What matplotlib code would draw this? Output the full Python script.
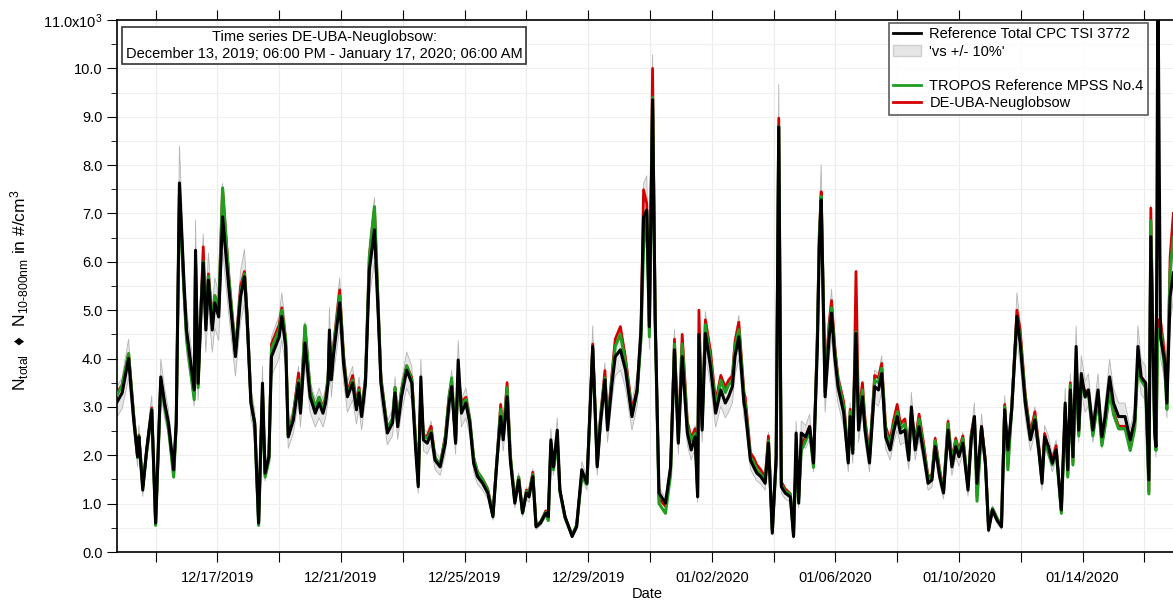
import numpy as np
import pandas as pd
import matplotlib
matplotlib.use("Agg")
import matplotlib.pyplot as plt
from matplotlib.lines import Line2D
from matplotlib.patches import Patch
from matplotlib.ticker import MultipleLocator, FuncFormatter

plt.rcParams['font.family'] = ['Liberation Sans', 'DejaVu Sans']
plt.rcParams['mathtext.fontset'] = 'custom'
plt.rcParams['mathtext.rm'] = 'Liberation Sans'
plt.rcParams['mathtext.it'] = 'Liberation Sans:italic'
plt.rcParams['mathtext.default'] = 'regular'
plt.rcParams['mathtext.fallback'] = 'stixsans'

# Messzeitraum
t_start = pd.Timestamp('2019-12-13 18:00')
t_end = pd.Timestamp('2020-01-17 06:00')

# Stunden seit Beginn
hours = [0, 4, 9, 13, 16, 17, 20, 23, 27, 30, 32, 34, 37, 40, 44, 46, 48.5, 52, 54, 60,
         61, 63, 65.5, 67, 69, 71, 74, 76, 79, 82, 87, 92, 96, 99, 101, 104, 107, 110, 113, 115,
         118, 120, 126, 128, 131, 133, 137, 141, 142.5, 146, 150, 154, 157, 160, 162, 164, 165, 166.5, 168, 173,
         176, 179, 183, 186, 188, 190, 193, 196, 200, 203, 205, 210, 214, 216, 218, 221, 225, 229, 232, 234,
         236, 238, 241, 244, 247, 251, 255, 258, 260, 263, 265, 267.5, 271, 274, 277, 280, 284, 288, 292, 295,
         298, 300, 303, 305.5, 309, 312, 315, 318, 320, 323, 325.5, 329, 333, 335, 337, 339, 342, 344, 348, 353.5,
         357, 361, 365, 369.5, 373, 375.5, 379, 381, 384.5, 387, 391, 395, 400, 404, 407, 409, 411.5, 413.5, 416, 418,
         421, 426, 430, 433, 436, 439, 443, 446, 449, 451, 452, 454.5, 457, 461, 465, 469, 472.5, 475, 478, 480,
         483, 487, 488, 492, 494.5, 497, 500, 503.5, 506, 509, 512, 514, 516, 519, 523, 525.5, 527.5, 529.5, 531.5, 535,
         538, 541, 544, 545.5, 547, 550, 553, 555, 557.5, 560, 564.5, 568, 569.5, 571.5, 572.5, 574, 576, 579, 581, 584.5,
         588.5, 591.5, 594, 597, 600.5, 603, 606, 608.5, 612, 615, 617, 620, 623, 626.5, 630, 633, 635.5, 639, 642, 645.5,
         648.5, 651.5, 654, 657, 661, 663.5, 666, 668, 671.5, 674.5, 677, 680, 683.5, 687, 689.5, 692, 695, 699, 701.5, 705.5,
         709.5, 713, 716, 718.5, 720.5, 723.5, 726.5, 729.5, 733.5, 736.5, 738.5, 740.5, 742.5, 745, 747, 749, 752, 754.5, 758, 762,
         765, 767.5, 771, 774, 778, 783, 787, 790.5, 793, 795.5, 799, 801.5, 803, 806, 807, 808.5, 810.5, 814, 815.5, 818,
         820.5]

# Referenz CPC TSI 3772 (x10^3 #/cm3)
cpc_ref = [3.10, 3.29, 4.00, 2.73, 1.97, 2.38, 1.28, 2.11, 2.94, 0.60, 2.11, 3.62, 3.08, 2.67, 1.70, 2.67, 7.63, 5.56, 4.59, 3.35,
           6.24, 3.49, 5.15, 5.98, 4.59, 5.62, 4.59, 5.15, 4.86, 6.93, 5.42, 4.04, 5.28, 5.69, 4.87, 3.08, 2.67, 0.60, 3.49, 1.63,
           1.97, 4.04, 4.45, 4.87, 4.25, 2.38, 2.73, 3.49, 2.87, 4.32, 3.21, 2.87, 3.08, 2.87, 3.08, 3.49, 4.59, 3.56, 4.04, 5.15,
           3.90, 3.21, 3.49, 2.94, 3.29, 2.80, 3.49, 5.83, 6.66, 4.87, 3.49, 2.46, 2.67, 3.29, 2.59, 3.21, 3.76, 3.49, 2.11, 1.35,
           3.62, 2.32, 2.25, 2.46, 1.90, 1.76, 2.25, 3.08, 3.42, 2.25, 3.97, 2.87, 3.08, 2.67, 1.84, 1.56, 1.42, 1.22, 0.73, 1.84,
           2.80, 2.32, 3.21, 1.90, 1.01, 1.49, 0.81, 1.22, 1.14, 1.56, 0.52, 0.60, 0.80, 0.73, 2.32, 1.76, 2.52, 1.28, 0.73, 0.32,
           0.52, 1.70, 1.42, 4.25, 1.76, 2.66, 3.56, 2.52, 3.49, 4.04, 4.18, 3.76, 2.80, 3.35, 4.59, 6.93, 7.07, 4.66, 9.35, 4.87,
           1.22, 1.01, 1.76, 4.18, 2.25, 4.04, 2.46, 2.11, 2.38, 1.14, 4.50, 2.52, 4.52, 3.83, 2.87, 3.35, 3.08, 3.21, 3.42, 4.04,
           4.45, 3.08, 2.94, 1.90, 1.76, 1.63, 1.56, 1.42, 2.25, 0.39, 1.97, 8.79, 1.35, 1.22, 1.14, 0.32, 2.46, 1.01, 2.46, 2.38,
           2.59, 1.84, 4.25, 6.31, 7.28, 3.21, 4.38, 4.94, 4.04, 3.42, 2.87, 1.84, 2.80, 2.04, 3.21, 4.52, 2.52, 3.21, 2.52, 1.84,
           3.42, 3.35, 3.69, 2.38, 2.11, 2.46, 2.80, 2.46, 2.52, 1.90, 3.00, 2.11, 2.59, 2.04, 1.42, 1.49, 2.18, 1.56, 1.22, 2.52,
           1.76, 2.18, 1.97, 2.25, 1.28, 2.32, 2.80, 1.42, 2.59, 1.84, 0.45, 0.87, 0.66, 0.52, 2.94, 2.11, 2.94, 4.87, 4.32, 3.08,
           2.32, 2.73, 2.11, 1.42, 2.38, 2.18, 1.84, 2.11, 0.87, 3.08, 1.70, 3.35, 1.97, 4.25, 2.52, 3.69, 3.21, 3.35, 2.52, 3.35,
           2.38, 2.80, 3.62, 3.08, 2.80, 2.80, 2.32, 2.73, 4.25, 3.62, 3.49, 1.49, 6.52, 2.52, 2.18, 12.0, 4.45, 3.90, 3.08, 5.28,
           5.77]

# TROPOS Referenz-MPSS Nr. 4
mpss = [3.25, 3.45, 4.10, 2.80, 1.95, 2.40, 1.35, 2.05, 2.95, 0.55, 2.05, 3.50, 3.00, 2.55, 1.55, 2.60, 7.40, 5.40, 4.40, 3.15,
        6.00, 3.40, 5.20, 6.00, 4.70, 5.70, 4.70, 5.30, 5.00, 7.53, 5.60, 4.10, 5.35, 5.75, 4.90, 3.15, 2.60, 0.55, 3.30, 1.55,
        1.90, 4.20, 4.60, 5.00, 4.40, 2.40, 2.85, 3.55, 2.95, 4.69, 3.35, 3.00, 3.20, 2.95, 3.15, 3.60, 4.40, 3.60, 4.15, 5.30,
        4.00, 3.25, 3.55, 3.00, 3.35, 2.85, 3.55, 6.10, 7.14, 5.00, 3.55, 2.55, 2.75, 3.40, 2.65, 3.35, 3.85, 3.55, 2.25, 1.40,
        3.30, 2.40, 2.35, 2.50, 1.95, 1.80, 2.35, 3.20, 3.60, 2.25, 3.60, 3.05, 3.15, 2.75, 1.95, 1.65, 1.50, 1.28, 0.75, 1.85,
        2.95, 2.45, 3.40, 2.00, 1.05, 1.55, 0.80, 1.25, 1.20, 1.60, 0.55, 0.62, 0.82, 0.65, 2.20, 1.70, 2.30, 1.25, 0.70, 0.35,
        0.55, 1.55, 1.40, 4.20, 1.80, 2.75, 3.60, 2.60, 3.60, 4.25, 4.50, 3.90, 2.85, 3.30, 4.40, 6.30, 7.00, 4.45, 9.40, 4.80,
        1.00, 0.80, 1.60, 4.30, 2.30, 4.30, 2.60, 2.30, 2.45, 1.20, 4.40, 2.60, 4.70, 4.00, 3.00, 3.55, 3.30, 3.45, 3.55, 4.25,
        4.60, 3.20, 3.05, 1.95, 1.85, 1.70, 1.60, 1.50, 2.30, 0.45, 1.85, 8.80, 1.40, 1.25, 1.20, 0.35, 1.90, 1.10, 2.10, 2.30,
        2.50, 1.75, 4.40, 6.50, 7.35, 3.30, 4.55, 5.05, 4.15, 3.55, 3.00, 1.90, 2.90, 2.10, 3.30, 4.55, 2.65, 3.35, 2.65, 1.95,
        3.55, 3.50, 3.80, 2.50, 2.20, 2.60, 2.90, 2.55, 2.65, 2.00, 2.80, 2.20, 2.75, 2.15, 1.50, 1.55, 2.30, 1.65, 1.25, 2.65,
        1.85, 2.30, 2.05, 2.35, 1.35, 2.40, 2.75, 1.05, 2.55, 1.85, 0.50, 0.90, 0.70, 0.55, 3.00, 1.70, 3.00, 4.85, 4.45, 3.15,
        2.35, 2.80, 2.10, 1.50, 2.30, 2.05, 1.80, 2.10, 0.80, 2.90, 1.55, 3.45, 1.80, 3.90, 2.40, 3.50, 3.20, 3.30, 2.40, 3.15,
        2.20, 2.60, 3.30, 2.85, 2.55, 2.55, 2.10, 2.55, 3.90, 3.55, 3.40, 1.20, 6.85, 2.40, 2.10, 4.60, 4.60, 3.70, 2.95, 5.80,
        6.50]

# DE-UBA-Neuglobsow
uba = [3.30, 3.45, 4.10, 2.82, 1.98, 2.42, 1.35, 2.10, 2.98, 0.58, 2.08, 3.55, 3.05, 2.60, 1.60, 2.65, 7.50, 5.45, 4.50, 3.25,
       6.10, 3.45, 5.30, 6.31, 4.80, 5.75, 4.75, 5.30, 5.05, 7.50, 5.60, 4.15, 5.50, 5.80, 4.95, 3.15, 2.65, 0.60, 3.35, 1.60,
       1.95, 4.30, 4.70, 5.05, 4.40, 2.45, 2.85, 3.70, 3.00, 4.65, 3.35, 3.00, 3.20, 3.00, 3.20, 3.60, 4.45, 3.65, 4.20, 5.42,
       4.05, 3.30, 3.65, 3.05, 3.40, 2.90, 3.60, 6.10, 7.10, 5.00, 3.60, 2.55, 2.75, 3.40, 2.65, 3.35, 3.85, 3.60, 2.30, 1.45,
       3.35, 2.40, 2.40, 2.60, 1.95, 1.80, 2.40, 3.25, 3.50, 2.30, 3.65, 3.10, 3.20, 2.75, 1.95, 1.65, 1.50, 1.30, 0.78, 1.88,
       3.05, 2.45, 3.50, 2.00, 1.05, 1.55, 0.82, 1.28, 1.22, 1.65, 0.55, 0.62, 0.85, 0.70, 2.25, 1.72, 2.35, 1.28, 0.72, 0.35,
       0.55, 1.60, 1.45, 4.30, 1.85, 2.80, 3.75, 2.65, 3.70, 4.40, 4.66, 4.00, 2.95, 3.35, 4.50, 7.49, 7.20, 4.60, 10.00, 4.90,
       1.10, 0.95, 1.70, 4.40, 2.35, 4.50, 2.70, 2.35, 2.55, 1.25, 5.00, 2.70, 4.80, 4.15, 3.10, 3.65, 3.40, 3.55, 3.65, 4.35,
       4.75, 3.30, 3.20, 2.05, 1.95, 1.80, 1.70, 1.55, 2.40, 0.45, 1.90, 8.97, 1.45, 1.30, 1.20, 0.40, 2.00, 1.15, 2.20, 2.40,
       2.60, 1.80, 4.55, 6.60, 7.45, 3.40, 4.70, 5.20, 4.25, 3.60, 3.10, 2.00, 2.95, 2.20, 3.40, 5.80, 2.80, 3.50, 2.75, 2.00,
       3.65, 3.60, 3.90, 2.60, 2.30, 2.70, 3.05, 2.65, 2.75, 2.10, 2.90, 2.30, 2.85, 2.25, 1.55, 1.60, 2.35, 1.70, 1.30, 2.70,
       1.90, 2.35, 2.10, 2.40, 1.35, 2.45, 2.80, 1.15, 2.60, 1.90, 0.50, 0.90, 0.70, 0.55, 3.05, 1.80, 3.05, 5.00, 4.60, 3.25,
       2.45, 2.90, 2.20, 1.55, 2.45, 2.15, 1.90, 2.20, 0.85, 3.00, 1.60, 3.50, 1.85, 3.95, 2.45, 3.55, 3.30, 3.35, 2.45, 3.20,
       2.25, 2.65, 3.35, 2.90, 2.60, 2.60, 2.15, 2.60, 3.95, 3.60, 3.50, 1.25, 7.11, 2.45, 2.20, 4.80, 4.80, 4.00, 3.10, 6.10,
       7.00]

t = t_start + pd.to_timedelta(hours, unit='h')
ref = np.array(cpc_ref)

fig = plt.figure(figsize=(11.73, 6.01), dpi=100)
# rechte Achse liegt knapp ausserhalb des Bildes
ax = fig.add_axes([117 / 1173, 49 / 601, 1066 / 1173, 532 / 601])

# +/- 10 % Band um die Referenz
ax.fill_between(t, ref * 0.9, ref * 1.1, facecolor='#e6e6e6', edgecolor='#b5b5b5', linewidth=0.6, zorder=1)
ax.plot(t, uba, color='#d40000', linewidth=2.0, zorder=2)
ax.plot(t, mpss, color='#1f9e1f', linewidth=2.2, zorder=3)
ax.plot(t, ref, color='black', linewidth=2.2, zorder=4)

ax.set_ylim(0, 11)

# Achsen und Ticks
ax.yaxis.set_major_locator(MultipleLocator(1))
ax.yaxis.set_minor_locator(MultipleLocator(0.5))
ax.yaxis.set_major_formatter(FuncFormatter(lambda v, p: '11.0x10$^{3}$' if round(v) == 11 else f'{v:.1f}'))

ticks_all = pd.date_range('2019-12-15', '2020-01-16', freq='2D')
ax.set_xticks(ticks_all)
ax.set_xticklabels([d.strftime('%m/%d/%Y') if i % 2 == 1 else '' for i, d in enumerate(ticks_all)])
ax.set_xlim(t_start, t_end)

ax.tick_params(axis='both', which='both', direction='out', labelsize=10.5, colors='black')
ax.tick_params(axis='x', which='major', length=7, top=True, pad=7)
ax.tick_params(axis='y', which='major', length=7)
ax.tick_params(axis='y', which='minor', length=4)
ax.tick_params(axis='x', which='minor', bottom=False)

ax.grid(True, which='major', axis='x', color='#ececec', linewidth=0.8)
ax.grid(True, which='both', axis='y', color='#f0f0f0', linewidth=0.8)
ax.set_axisbelow(True)
for s in ax.spines.values():
    s.set_linewidth(1.2)

fig.text(647 / 1173, 1 - 594 / 601, 'Date', ha='center', va='center', fontsize=10.5)
fig.text(20 / 1173, 1 - 290 / 601,
         r'$N_{total}$  $♦$  $N_{10\text{-}800nm}$ in #/cm$^{3}$',
         rotation=90, ha='center', va='center', fontsize=12.5)

# Titelbox
fig.text(324 / 1173, 1 - 45.5 / 601,
         'Time series DE-UBA-Neuglobsow:\nDecember 13, 2019; 06:00 PM - January 17, 2020; 06:00 AM',
         ha='center', va='center', fontsize=10.5, linespacing=1.25,
         bbox=dict(boxstyle='square,pad=0.22', facecolor='white', edgecolor='#333333', linewidth=1.2))

handles = [Line2D([], [], color='black', linewidth=2),
           Patch(facecolor='#e6e6e6', edgecolor='#cfcfcf'),
           Line2D([], [], color='none'),
           Line2D([], [], color='#1f9e1f', linewidth=2),
           Line2D([], [], color='#d40000', linewidth=2)]
labels = ['Reference Total CPC TSI 3772', "'vs +/- 10%'", ' ',
          'TROPOS Reference MPSS No.4', 'DE-UBA-Neuglobsow']
leg = ax.legend(handles, labels, loc='upper right', bbox_to_anchor=(1148 / 1173, 1 - 23 / 601),
                bbox_transform=fig.transFigure, fontsize=10.5, frameon=True, fancybox=False,
                handlelength=1.9, handletextpad=0.6, labelspacing=0.22, borderpad=0.3,
                borderaxespad=0)
leg.get_frame().set_edgecolor('#333333')
leg.get_frame().set_linewidth(1.2)
leg.set_zorder(10)

fig.savefig('out.png', dpi=100)
